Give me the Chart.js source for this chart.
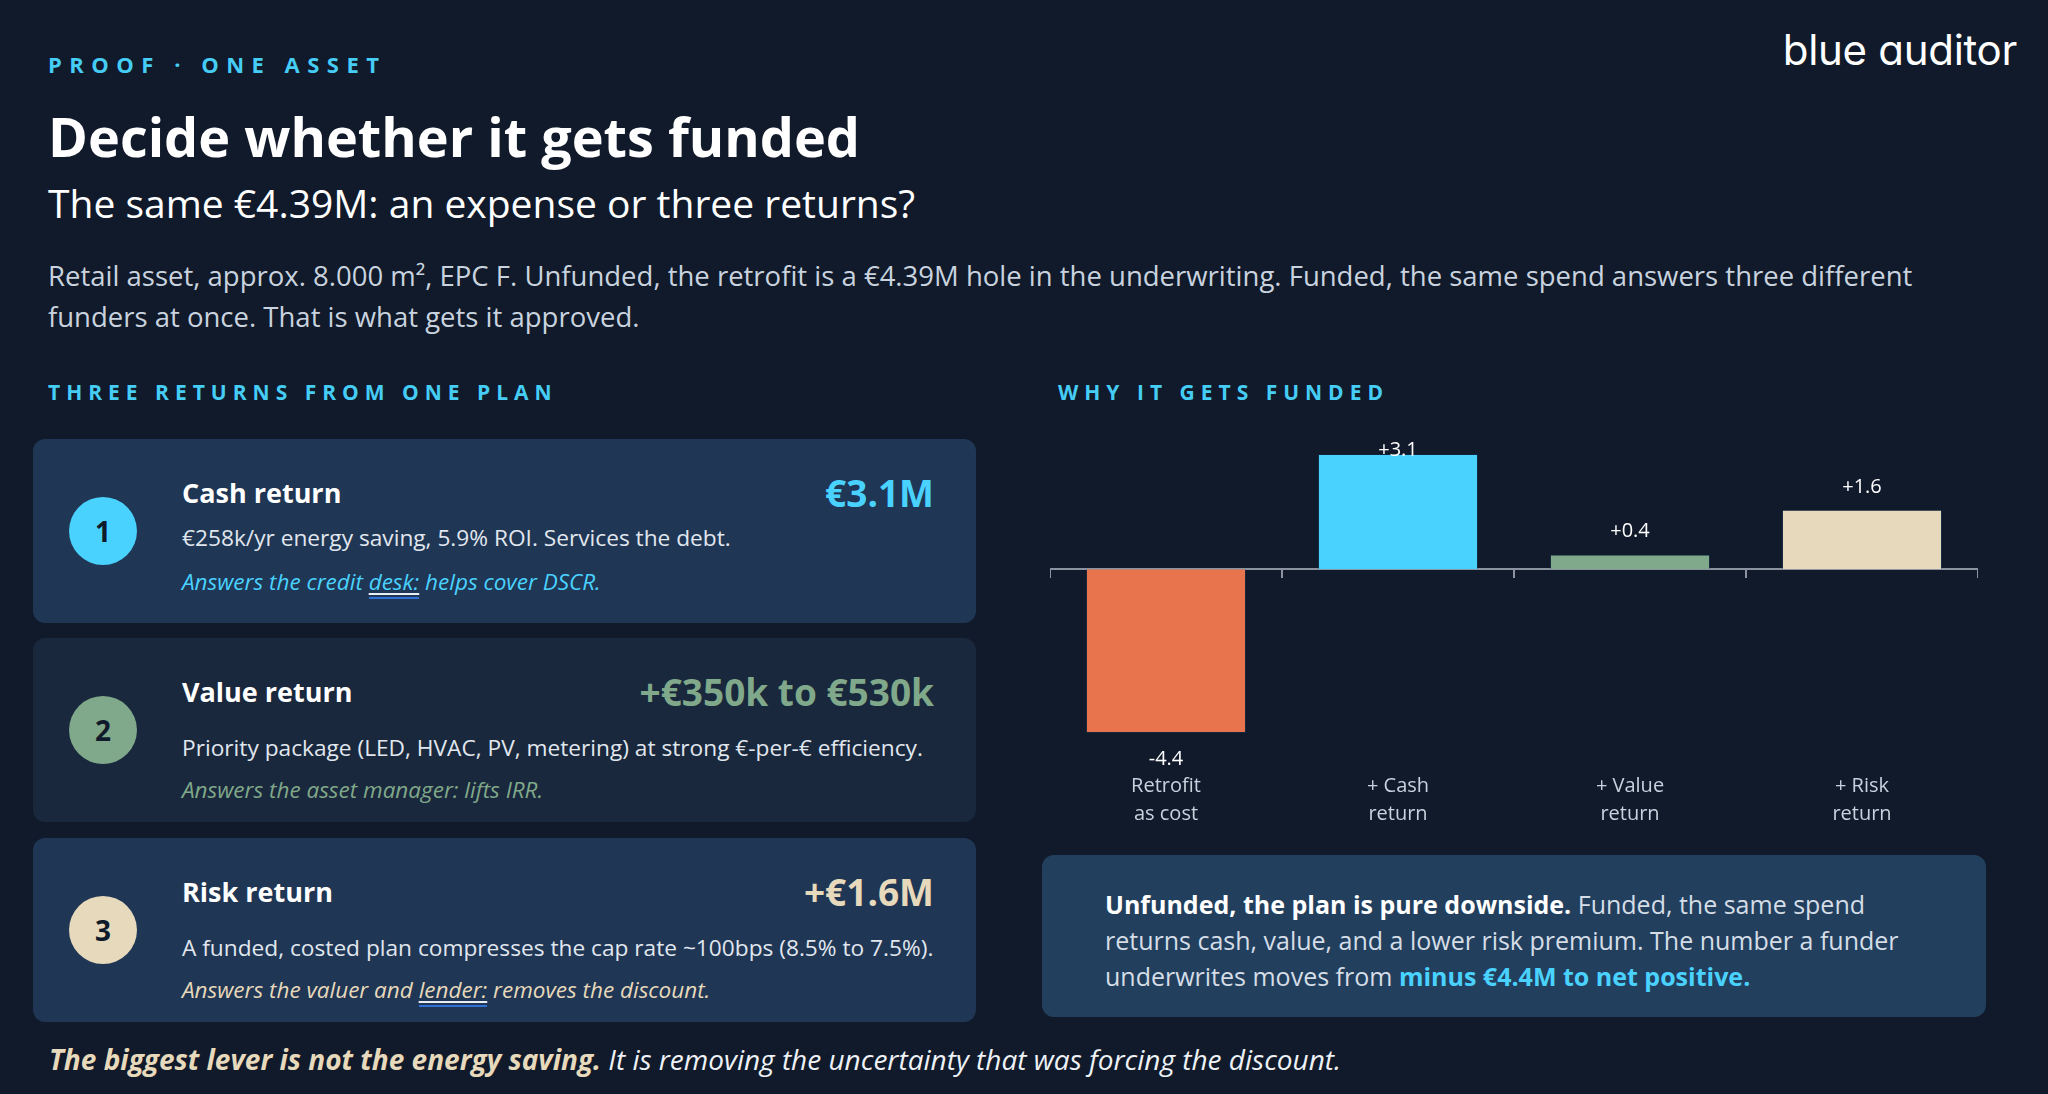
<!DOCTYPE html>
<html>
<head>
<meta charset="utf-8">
<script src="https://cdn.jsdelivr.net/npm/chart.js@4.4.1/dist/chart.umd.min.js"></script>
<style>
  html, body { margin: 0; padding: 0; background: #101a2a; }
  body { width: 2048px; height: 1094px; position: relative; overflow: hidden; font-family: "Open Sans", sans-serif; color: #fff; }
  .abs { position: absolute; }
  .eyebrow { font-size: 21px; line-height: 21px; font-weight: 700; letter-spacing: 6px; color: #45cdf6; }
  .logo { right: 31px; top: 28px; font-family: Inter, sans-serif; font-feature-settings: "cv11" 1, "ss02" 0; font-size: 42px; line-height: 44px; font-weight: 400; letter-spacing: -0.3px; }
  h1 { position: absolute; left: 48px; top: 106px; margin: 0; font-size: 54px; line-height: 60px; font-weight: 700; }
  .sub { left: 48px; top: 181px; font-size: 39px; line-height: 44px; }
  .lede { left: 48px; top: 255px; width: 1900px; font-size: 27.5px; line-height: 41px; color: #c9d3df; }
  .card { left: 33px; width: 943px; height: 184px; border-radius: 12px; box-sizing: border-box; padding: 34px 42px 0 149px; }
  .card.c1 { top: 439px; background: #1f3654; }
  .card.c2 { top: 638px; background: #19283c; }
  .card.c3 { top: 838px; background: #1f3654; }
  .num { position: absolute; left: 36px; top: 58px; width: 68px; height: 68px; border-radius: 50%; color: #0f1a2a; font-size: 28px; font-weight: 700; line-height: 68px; text-align: center; }
  .row { display: flex; justify-content: space-between; align-items: center; height: 38px; }
  .ttl { font-size: 27px; font-weight: 700; }
  .val { font-size: 37px; font-weight: 700; }
  .desc { margin-top: 23px; font-size: 22.7px; line-height: 30px; color: #e1e7ef; white-space: nowrap; }
  .note { margin-top: 12px; font-size: 22.5px; line-height: 30px; font-style: italic; white-space: nowrap; }
  .c1 .desc { margin-top: 12px; }
  .c1 .note { margin-top: 14px; }
  .ul { text-decoration: underline 2px #e8eef5; text-underline-offset: 3px; border-bottom: 2px solid #2f6fd6; }
  .chartBox { left: 1050px; top: 440px; width: 928px; height: 427px; }
  .box { left: 1042px; top: 855px; width: 944px; height: 162px; border-radius: 12px; background: #22405e; box-sizing: border-box; padding: 31px 60px 0 63px; font-size: 25px; line-height: 36px; color: #d5dde7; }
  .foot { left: 49px; top: 1043px; font-size: 28px; line-height: 32px; font-style: italic; color: #eef2f6; white-space: nowrap; }
</style>
</head>
<body>
  <div class="abs eyebrow" style="left:48px;top:54px;font-size:22px;letter-spacing:7.5px;">PROOF · ONE ASSET</div>
  <div class="abs logo">blue auditor</div>
  <h1>Decide whether it gets funded</h1>
  <div class="abs sub">The same €4.39M: an expense or three returns?</div>
  <div class="abs lede">Retail asset, approx. 8.000 m², EPC F. Unfunded, the retrofit is a €4.39M hole in the underwriting. Funded, the same spend answers three different funders at once. That is what gets it approved.</div>

  <div class="abs eyebrow" style="left:48px;top:382px;">THREE RETURNS FROM ONE PLAN</div>
  <div class="abs eyebrow" style="left:1058px;top:382px;">WHY IT GETS FUNDED</div>

  <div class="abs card c1">
    <div class="num" style="background:#4ad2ff;">1</div>
    <div class="row"><span class="ttl">Cash return</span><span class="val" style="color:#4ad2ff;">€3.1M</span></div>
    <div class="desc">€258k/yr energy saving, 5.9% ROI. Services the debt.</div>
    <div class="note" style="color:#4ad2ff;">Answers the credit <span class="ul">desk:</span> helps cover DSCR.</div>
  </div>
  <div class="abs card c2">
    <div class="num" style="background:#80a88a;">2</div>
    <div class="row"><span class="ttl">Value return</span><span class="val" style="color:#80a88a;">+€350k to €530k</span></div>
    <div class="desc">Priority package (LED, HVAC, PV, metering) at strong €-per-€ efficiency.</div>
    <div class="note" style="color:#80a88a;">Answers the asset manager: lifts IRR.</div>
  </div>
  <div class="abs card c3">
    <div class="num" style="background:#e7d9bb;">3</div>
    <div class="row"><span class="ttl">Risk return</span><span class="val" style="color:#e7d9bb;">+€1.6M</span></div>
    <div class="desc">A funded, costed plan compresses the cap rate ~100bps (8.5% to 7.5%).</div>
    <div class="note" style="color:#e7d9bb;">Answers the valuer and <span class="ul">lender:</span> removes the discount.</div>
  </div>

  <div class="abs chartBox"><canvas id="chart"></canvas></div>

  <div class="abs box"><b style="color:#fff;">Unfunded, the plan is pure downside.</b> Funded, the same spend returns cash, value, and a lower risk premium. The number a funder underwrites moves from <b style="color:#4ad2ff;">minus €4.4M to net positive.</b></div>

  <div class="abs foot"><b style="color:#e7d9bb;">The biggest lever is not the energy saving.</b> It is removing the uncertainty that was forcing the discount.</div>

<script>
const categories = [["Retrofit", "as cost"], ["+ Cash", "return"], ["+ Value", "return"], ["+ Risk", "return"]];
const returnValues = [-4.4, 3.1, 0.4, 1.6];
const barColors = ["#e8744d", "#4ad2ff", "#80a88a", "#e7d9bb"];

// value labels above positive bars, below the negative one
const valueLabels = {
  id: "valueLabels",
  afterDatasetsDraw(chart) {
    const { ctx } = chart;
    const meta = chart.getDatasetMeta(0);
    ctx.save();
    ctx.font = '20px "Open Sans"';
    ctx.fillStyle = "#ffffff";
    ctx.textAlign = "center";
    ctx.textBaseline = "middle";
    meta.data.forEach((bar, i) => {
      const v = returnValues[i];
      const txt = (v > 0 ? "+" : "") + v.toFixed(1);
      const y = v >= 0 ? Math.max(bar.y - 23, 10) : bar.y + 26;
      ctx.fillText(txt, bar.x, y);
    });
    ctx.restore();
  },
};

const ctx = document.getElementById("chart");
const chart = new Chart(ctx, {
  type: "bar",
  data: {
    labels: categories,
    datasets: [
      {
        data: returnValues,
        backgroundColor: barColors,
        borderColor: "rgba(20,60,100,0.35)",
        borderWidth: 1,
        categoryPercentage: 1,
        barPercentage: 0.69,
      },
    ],
  },
  options: {
    responsive: true,
    maintainAspectRatio: false,
    animation: false,
    layout: { padding: { top: 14, left: 0, right: 0, bottom: 0 } },
    plugins: { legend: { display: false }, tooltip: { enabled: false } },
    scales: {
      y: {
        display: false,
        min: Math.min(...returnValues),
        max: Math.max(...returnValues),
      },
      x: {
        grid: { display: false, drawTicks: false },
        border: { display: false },
        ticks: {
          color: "#c8d1dd",
          font: { family: "Open Sans", size: 20, lineHeight: 1.4 },
          padding: 39,
          maxRotation: 0,
        },
      },
      x2: {
        type: "category",
        axis: "x",
        position: { y: 0 },
        grid: { drawOnChartArea: false, offset: true, color: "#8b93a0", lineWidth: 2, tickLength: 8 },
        border: { color: "#8b93a0", width: 2 },
        ticks: { display: false },
      },
    },
  },
  plugins: [valueLabels],
});
</script>
</body>
</html>
